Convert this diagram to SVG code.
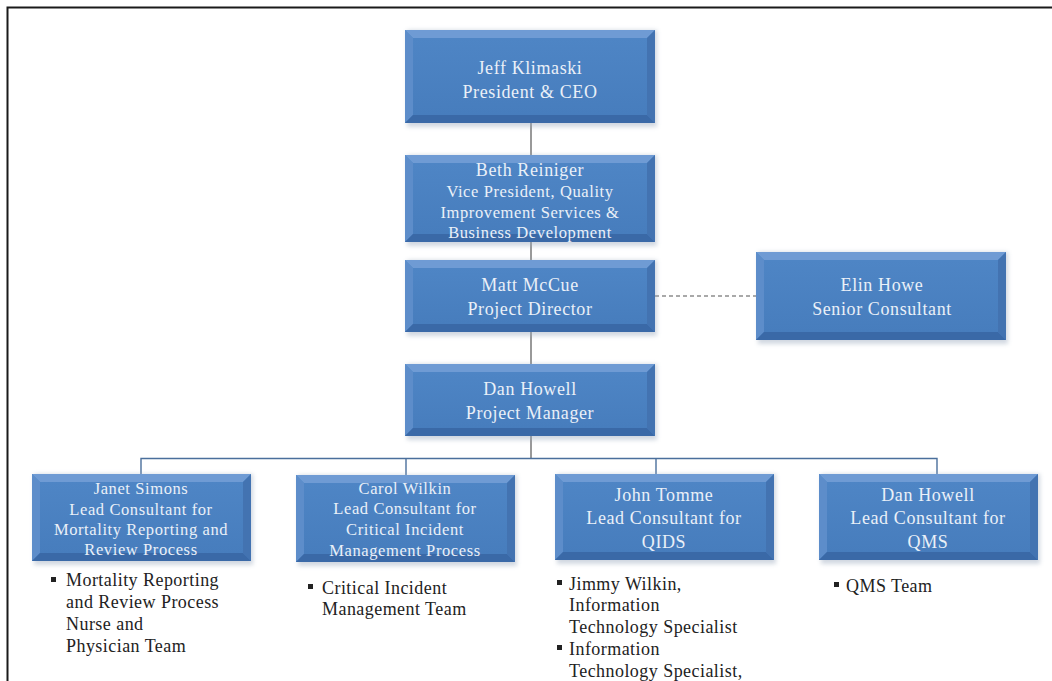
<svg xmlns="http://www.w3.org/2000/svg" width="1052" height="681" viewBox="0 0 1052 681">
  <style>
    .face { fill: url(#faceGrad); }
    .inner { fill: url(#innerGrad); }
    .bt { fill: #6f9bd4; }
    .bl { fill: #5d8dca; }
    .bb { fill: #3a69a7; }
    .br { fill: #4373b1; }
    .shadow { fill: #9aa9bd; opacity: 0.45; filter: url(#soft); }
    .nt { font-family: "Liberation Serif", "Times New Roman", serif; fill: #eaf0f8; text-anchor: middle; }
    .big { font-size: 18px; letter-spacing: 0.6px; }
    .small { font-size: 16.5px; letter-spacing: 0.6px; }
    .bul { font-family: "Liberation Serif", "Times New Roman", serif; font-size: 18px; letter-spacing: 0.45px; fill: #222; }
    .link { stroke: #555; stroke-width: 1.2; fill: none; }
    .bus { stroke: #4a6f9c; stroke-width: 1.4; fill: none; }
    .dash { stroke: #555; stroke-width: 1.2; stroke-dasharray: 4 3; fill: none; }
  </style>
  <defs>
    <linearGradient id="faceGrad" x1="0" y1="0" x2="0" y2="1">
      <stop offset="0" stop-color="#5189c9"/>
      <stop offset="1" stop-color="#457bbb"/>
    </linearGradient>
    <linearGradient id="innerGrad" x1="0" y1="0" x2="0" y2="1">
      <stop offset="0" stop-color="#4e85c5"/>
      <stop offset="1" stop-color="#477dbd"/>
    </linearGradient>
    <filter id="soft" x="-10%" y="-10%" width="120%" height="140%">
      <feGaussianBlur stdDeviation="2"/>
    </filter>
  </defs>

  <rect x="0" y="0" width="1052" height="681" fill="#ffffff"/>
  <!-- page frame -->
  <path d="M7.5 681 V7.5 H1052" stroke="#1a1a1a" stroke-width="2" fill="none"/>

  <!-- connectors -->
  <g id="connectors">
    <line class="link" x1="531" y1="123" x2="531" y2="155"/>
    <line class="link" x1="531" y1="242" x2="531" y2="260"/>
    <line class="link" x1="531" y1="332" x2="531" y2="364"/>
    <line class="link" x1="531" y1="436" x2="531" y2="458"/>
    <line class="dash" x1="655" y1="296" x2="756" y2="296"/>
    <path class="bus" d="M141 474 V458.5 H937 V474"/>
    <line class="bus" x1="406" y1="458.5" x2="406" y2="475"/>
    <line class="bus" x1="656" y1="458.5" x2="656" y2="474"/>
  </g>

  <!-- Jeff Klimaski -->
  <g id="node-ceo">
    <rect class="shadow" x="407" y="30" width="250" height="97"/>
    <rect class="face" x="405" y="30" width="250" height="93"/>
    <polygon class="bt" points="405,30 655,30 647,38 413,38"/>
    <polygon class="bl" points="405,30 413,38 413,115 405,123"/>
    <polygon class="bb" points="405,123 413,115 647,115 655,123"/>
    <polygon class="br" points="655,30 655,123 647,115 647,38"/>
    <rect class="inner" x="413" y="38" width="234" height="77"/>
    <text class="nt big" x="530" y="74">Jeff Klimaski</text>
    <text class="nt big" x="530" y="98">President &amp; CEO</text>
  </g>

  <!-- Beth Reiniger -->
  <g id="node-vp">
    <rect class="shadow" x="407" y="155" width="250" height="91"/>
    <rect class="face" x="405" y="155" width="250" height="87"/>
    <polygon class="bt" points="405,155 655,155 647,163 413,163"/>
    <polygon class="bl" points="405,155 413,163 413,234 405,242"/>
    <polygon class="bb" points="405,242 413,234 647,234 655,242"/>
    <polygon class="br" points="655,155 655,242 647,234 647,163"/>
    <rect class="inner" x="413" y="163" width="234" height="71"/>
    <text class="nt big" x="530" y="176">Beth Reiniger</text>
    <text class="nt small" x="530" y="197">Vice President,  Quality</text>
    <text class="nt small" x="530" y="218">Improvement  Services &amp;</text>
    <text class="nt small" x="530" y="238">Business Development</text>
  </g>

  <!-- Matt McCue -->
  <g id="node-director">
    <rect class="shadow" x="407" y="260" width="250" height="76"/>
    <rect class="face" x="405" y="260" width="250" height="72"/>
    <polygon class="bt" points="405,260 655,260 647,268 413,268"/>
    <polygon class="bl" points="405,260 413,268 413,324 405,332"/>
    <polygon class="bb" points="405,332 413,324 647,324 655,332"/>
    <polygon class="br" points="655,260 655,332 647,324 647,268"/>
    <rect class="inner" x="413" y="268" width="234" height="56"/>
    <text class="nt big" x="530" y="291">Matt McCue</text>
    <text class="nt big" x="530" y="315">Project Director</text>
  </g>

  <!-- Elin Howe -->
  <g id="node-senior">
    <rect class="shadow" x="758" y="252" width="250" height="92"/>
    <rect class="face" x="756" y="252" width="250" height="88"/>
    <polygon class="bt" points="756,252 1006,252 998,260 764,260"/>
    <polygon class="bl" points="756,252 764,260 764,332 756,340"/>
    <polygon class="bb" points="756,340 764,332 998,332 1006,340"/>
    <polygon class="br" points="1006,252 1006,340 998,332 998,260"/>
    <rect class="inner" x="764" y="260" width="234" height="72"/>
    <text class="nt big" x="882" y="291">Elin Howe</text>
    <text class="nt big" x="882" y="315">Senior  Consultant</text>
  </g>

  <!-- Dan Howell, Project Manager -->
  <g id="node-manager">
    <rect class="shadow" x="407" y="364" width="250" height="76"/>
    <rect class="face" x="405" y="364" width="250" height="72"/>
    <polygon class="bt" points="405,364 655,364 647,372 413,372"/>
    <polygon class="bl" points="405,364 413,372 413,428 405,436"/>
    <polygon class="bb" points="405,436 413,428 647,428 655,436"/>
    <polygon class="br" points="655,364 655,436 647,428 647,372"/>
    <rect class="inner" x="413" y="372" width="234" height="56"/>
    <text class="nt big" x="530" y="395">Dan Howell</text>
    <text class="nt big" x="530" y="419">Project Manager</text>
  </g>

  <!-- Janet Simons -->
  <g id="node-mortality">
    <rect class="shadow" x="34" y="474" width="219" height="91"/>
    <rect class="face" x="32" y="474" width="219" height="87"/>
    <polygon class="bt" points="32,474 251,474 243,482 40,482"/>
    <polygon class="bl" points="32,474 40,482 40,553 32,561"/>
    <polygon class="bb" points="32,561 40,553 243,553 251,561"/>
    <polygon class="br" points="251,474 251,561 243,553 243,482"/>
    <rect class="inner" x="40" y="482" width="203" height="71"/>
    <text class="nt small" x="141" y="494">Janet  Simons</text>
    <text class="nt small" x="141" y="515">Lead Consultant  for</text>
    <text class="nt small" x="141" y="535">Mortality  Reporting  and</text>
    <text class="nt small" x="141" y="555">Review Process</text>
    <rect x="51" y="577" width="5" height="5" fill="#222"/>
    <text class="bul" x="66" y="586">Mortality Reporting</text>
    <text class="bul" x="66" y="608">and Review Process</text>
    <text class="bul" x="66" y="630">Nurse and</text>
    <text class="bul" x="66" y="652">Physician Team</text>
  </g>

  <!-- Carol Wilkin -->
  <g id="node-incident">
    <rect class="shadow" x="298" y="475" width="219" height="91"/>
    <rect class="face" x="296" y="475" width="219" height="87"/>
    <polygon class="bt" points="296,475 515,475 507,483 304,483"/>
    <polygon class="bl" points="296,475 304,483 304,554 296,562"/>
    <polygon class="bb" points="296,562 304,554 507,554 515,562"/>
    <polygon class="br" points="515,475 515,562 507,554 507,483"/>
    <rect class="inner" x="304" y="483" width="203" height="71"/>
    <text class="nt small" x="405" y="494">Carol  Wilkin</text>
    <text class="nt small" x="405" y="514">Lead Consultant  for</text>
    <text class="nt small" x="405" y="535">Critical  Incident</text>
    <text class="nt small" x="405" y="556">Management  Process</text>
    <rect x="308" y="584" width="5" height="5" fill="#222"/>
    <text class="bul" x="322" y="594">Critical Incident</text>
    <text class="bul" x="322" y="615">Management Team</text>
  </g>

  <!-- John Tomme -->
  <g id="node-qids">
    <rect class="shadow" x="557" y="474" width="219" height="90"/>
    <rect class="face" x="555" y="474" width="219" height="86"/>
    <polygon class="bt" points="555,474 774,474 766,482 563,482"/>
    <polygon class="bl" points="555,474 563,482 563,552 555,560"/>
    <polygon class="bb" points="555,560 563,552 766,552 774,560"/>
    <polygon class="br" points="774,474 774,560 766,552 766,482"/>
    <rect class="inner" x="563" y="482" width="203" height="70"/>
    <text class="nt big" x="664" y="501">John Tomme</text>
    <text class="nt big" x="664" y="524">Lead Consultant  for</text>
    <text class="nt big" x="664" y="548">QIDS</text>
    <rect x="557" y="580" width="5" height="5" fill="#222"/>
    <text class="bul" x="569" y="590">Jimmy Wilkin,</text>
    <text class="bul" x="569" y="611">Information</text>
    <text class="bul" x="569" y="633">Technology Specialist</text>
    <rect x="557" y="645" width="5" height="5" fill="#222"/>
    <text class="bul" x="569" y="655">Information</text>
    <text class="bul" x="569" y="677">Technology Specialist,</text>
  </g>

  <!-- Dan Howell, QMS -->
  <g id="node-qms">
    <rect class="shadow" x="821" y="474" width="219" height="90"/>
    <rect class="face" x="819" y="474" width="219" height="86"/>
    <polygon class="bt" points="819,474 1038,474 1030,482 827,482"/>
    <polygon class="bl" points="819,474 827,482 827,552 819,560"/>
    <polygon class="bb" points="819,560 827,552 1030,552 1038,560"/>
    <polygon class="br" points="1038,474 1038,560 1030,552 1030,482"/>
    <rect class="inner" x="827" y="482" width="203" height="70"/>
    <text class="nt big" x="928" y="501">Dan Howell</text>
    <text class="nt big" x="928" y="524">Lead Consultant  for</text>
    <text class="nt big" x="928" y="548">QMS</text>
    <rect x="834" y="582" width="5" height="5" fill="#222"/>
    <text class="bul" x="846" y="592">QMS Team</text>
  </g>
</svg>
